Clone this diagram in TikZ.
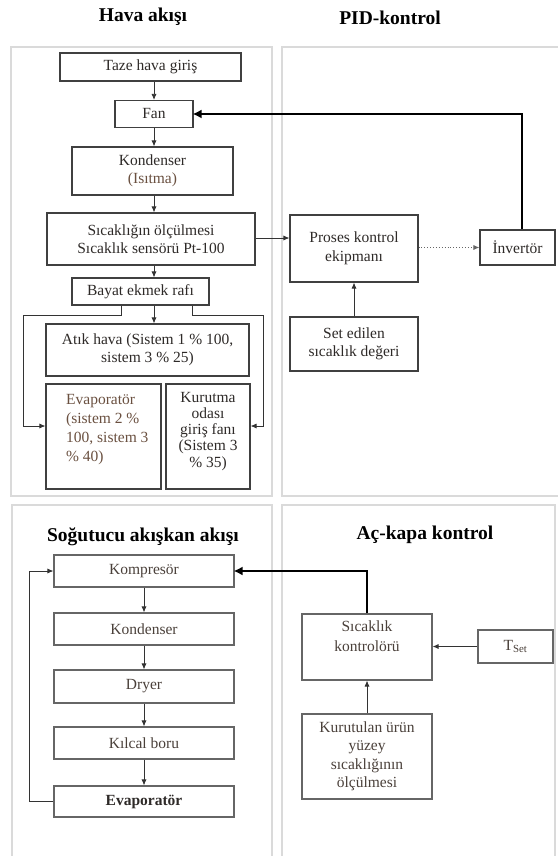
\documentclass[tikz,border=0pt]{standalone}
\usepackage{fontspec}
\setmainfont{Liberation Serif}
\usetikzlibrary{arrows.meta,calc}
\definecolor{txt}{HTML}{2E2A28}
\definecolor{txt2}{HTML}{4A403A}
\definecolor{brn}{HTML}{6A5040}
\definecolor{pan}{HTML}{DADADA}
\tikzset{
  box/.style={draw=black!75,line width=1.1pt,fill=white,align=center,text=txt,
    font=\fontsize{15.5}{18.5}\selectfont,inner sep=2pt},
  lbox/.style={box,draw=black!60,text=txt2},
  arr/.style={draw=black!80,line width=0.8pt,-{Latex[length=6pt,width=5pt]}},
  thickarr/.style={draw=black,line width=2.6pt,-{Latex[length=9pt,width=9pt]}},
  dotarr/.style={draw=black!60,line width=0.9pt,dotted,-{Latex[length=6pt,width=5pt]}},
  panel/.style={draw=pan,line width=1.2pt},
  ttl/.style={font=\fontsize{19.5}{22}\selectfont\bfseries,text=black}
}
\begin{document}
\begin{tikzpicture}[x=1pt,y=-1pt]
\useasboundingbox (0,0) rectangle (557,856);
\fill[white] (0,0) rectangle (557,856);
% panels
\draw[panel] (11,47) rectangle (272,496);
\draw[panel] (558,47) -- (282,47) -- (282,496) -- (558,496);
\draw[panel] (12,857) -- (12,505) -- (272,505) -- (272,857);
\draw[panel] (282,857) -- (282,505) -- (555,505) -- (555,857);
% titles
\node[ttl] (t1) at (143,17) {Hava akışı};
\node[ttl] (t2) at (390,18) {PID-kontrol};
\node[ttl] (t3) at (143,537) {Soğutucu akışkan akışı};
\node[ttl] (t4) at (425,535) {Aç-kapa kontrol};
% top-left
\node[box,minimum width=181,minimum height=28] (taze) at (150.5,67) {Taze hava giriş};
\node[box,minimum width=78,minimum height=27] (fan) at (154,114) {Fan};
\node[box,minimum width=161,minimum height=48] (kond) at (152.5,171) {Kondenser\\\textcolor{brn}{(Isıtma)}};
\node[box,minimum width=208,minimum height=52] (sic) at (151,239) {Sıcaklığın ölçülmesi\\Sıcaklık sensörü Pt-100};
\node[box,minimum width=137,minimum height=27] (bayat) at (140.5,291.5) {Bayat ekmek rafı};
\node[box,minimum width=203,minimum height=52] (atik) at (147.5,350) {Atık hava (Sistem 1 \% 100,\\sistem 3 \% 25)};
\node[box,minimum width=115,minimum height=105] (evap) at (103.5,436.5) {};
\node[anchor=north west,inner sep=0pt,align=left,text=brn,font=\fontsize{15.5}{19}\selectfont] (evapt) at (66,394) {Evaporatör\\(sistem 2 \%\\100, sistem 3\\\% 40)};
\node[box,minimum width=84,minimum height=105] (kurut) at (208,436.5) {};
\node[anchor=north,inner sep=0pt,align=center,text=txt,font=\fontsize{15.5}{16.2}\selectfont] (kurutt) at (208,392) {Kurutma\\odası\\giriş fanı\\(Sistem 3\\\% 35)};
% top-right
\node[box,minimum width=128,minimum height=67] (proses) at (354,248.5) {Proses kontrol\\ekipmanı};
\node[box,minimum width=75,minimum height=35] (inv) at (517.5,247.5) {İnvertör};
\node[box,minimum width=128,minimum height=54] (set) at (354,344) {Set edilen\\sıcaklık değeri};
% top arrows
\draw[arr] (fan.north |- taze.south) -- (fan.north);
\draw[arr] (fan.south) -- (fan.south |- kond.north);
\draw[arr] (fan.south |- kond.south) -- (fan.south |- sic.north);
\draw[arr] (fan.south |- sic.south) -- (fan.south |- bayat.north);
\draw[arr] (fan.south |- bayat.south) -- (fan.south |- atik.north);
\coordinate (l1) at (23,315);
\coordinate (r1) at (263,315);
\draw[arr] ([xshift=-19.5]bayat.south) |- (l1) |- ([yshift=10.5]evap.west);
\draw[arr] ([xshift=51.5]bayat.south) |- (r1) |- ([yshift=10.5]kurut.east);
\draw[arr] (sic.east |- 0,238) -- (proses.west |- 0,238);
\draw[dotarr] (proses.east |- inv.west) -- (inv.west);
\draw[arr] (set.north) -- (proses.south);
\draw[thickarr,line join=miter] ([xshift=4.5]inv.north) |- ([xshift=-1pt]fan.east);
% bottom-left
\node[lbox,minimum width=180,minimum height=32] (komp) at (144,571) {Kompresör};
\node[lbox,minimum width=180,minimum height=32] (kond2) at (144,629) {Kondenser};
\node[lbox,minimum width=180,minimum height=33] (dryer) at (144,686.5) {Dryer};
\node[lbox,minimum width=180,minimum height=32] (kilcal) at (144,743) {Kılcal boru};
\node[lbox,minimum width=180,minimum height=31,text=txt,font=\fontsize{15.5}{18.5}\selectfont\bfseries] (evap2) at (144,801.5) {Evaporatör};
\draw[arr] (komp.south) -- (kond2.north);
\draw[arr] (kond2.south) -- (dryer.north);
\draw[arr] (dryer.south) -- (kilcal.north);
\draw[arr] (kilcal.south) -- (evap2.north);
\coordinate (fb) at (29,801.5);
\draw[arr] (evap2.west) -- (fb) |- (komp.west);
% bottom-right
\node[lbox,minimum width=130,minimum height=66] (ctrl) at (367,647) {};
\node[anchor=north,inner sep=0pt,align=center,text=txt2,font=\fontsize{15.5}{19.5}\selectfont] (ctrlt) at (367,621) {Sıcaklık\\kontrolörü};
\node[lbox,minimum width=75,minimum height=33] (tset) at (515.5,646.5) {T\textsubscript{Set}};
\node[lbox,minimum width=130,minimum height=85,font=\fontsize{15.5}{18.5}\selectfont] (kuru) at (367,756.5) {Kurutulan ürün\\yüzey\\sıcaklığının\\ölçülmesi};
\draw[arr] (tset.west) -- (ctrl.east |- tset.west);
\draw[arr] (kuru.north) -- (ctrl.south);
\draw[thickarr,line join=miter] (ctrl.north) |- ([xshift=-1pt]komp.east);
\end{tikzpicture}
\end{document}
